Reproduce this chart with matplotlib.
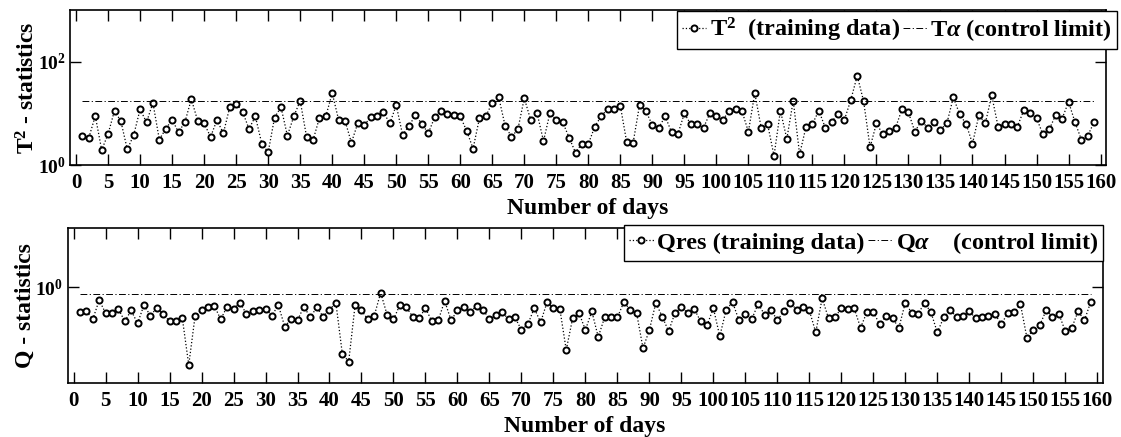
import numpy as np
import matplotlib
matplotlib.use("Agg")
import matplotlib.pyplot as plt
from matplotlib.lines import Line2D

plt.rcParams['font.family'] = ['Liberation Serif', 'DejaVu Serif']
plt.rcParams['font.weight'] = 'bold'
plt.rcParams['mathtext.fontset'] = 'custom'
plt.rcParams['mathtext.rm'] = 'Liberation Serif:bold'
plt.rcParams['mathtext.bf'] = 'Liberation Serif:bold'
plt.rcParams['mathtext.it'] = 'Liberation Serif:italic'

days = np.arange(1, 160)

t2_values = [
    3.7, 3.4, 8.9, 1.95, 4.0, 11.3, 7.0, 2.0, 3.8, 12.0,
    6.7, 16.0, 3.1, 5.0, 7.5, 4.3, 6.8, 18.8, 7.1, 6.4,
    3.5, 7.4, 4.1, 13.2, 15.3, 10.8, 5.0, 8.7, 2.6, 1.76,
    8.3, 13.2, 3.7, 8.7, 17.5, 3.5, 3.0, 8.1, 8.7, 24.7,
    7.5, 7.2, 2.7, 6.5, 5.9, 8.4, 8.7, 10.5, 6.4, 14.4,
    3.8, 5.8, 9.1, 6.3, 4.1, 8.4, 11.3, 9.8, 9.4, 8.7,
    4.6, 2.07, 8.1, 8.8, 16.2, 20.6, 5.8, 3.5, 4.9, 19.7,
    7.4, 10.1, 2.9, 10.1, 7.5, 6.7, 3.4, 1.73, 2.6, 2.55,
    5.5, 8.8, 12.0, 12.0, 14.0, 2.75, 2.7, 14.6, 11.0, 5.9,
    5.2, 8.8, 4.3, 4.0, 10.0, 6.1, 6.1, 5.3, 10.1, 8.7,
    7.5, 11.0, 12.2, 11.0, 4.4, 24.7, 5.2, 6.2, 1.5, 11.3,
    3.2, 17.5, 1.61, 5.5, 6.2, 11.3, 5.3, 6.8, 9.8, 7.5,
    18.3, 53.5, 17.0, 2.2, 6.4, 3.9, 4.6, 5.3, 12.2, 10.4,
    4.4, 7.1, 5.3, 6.8, 4.8, 6.4, 20.3, 9.6, 6.2, 2.6,
    9.2, 6.4, 22.2, 5.5, 6.2, 6.1, 5.5, 11.4, 10.0, 8.1,
    3.9, 4.9, 9.4, 7.9, 16.7, 6.8, 3.1, 3.7, 6.8,
]
t2_limit = 17.5

q_values = [
    0.62, 0.63, 0.54, 0.78, 0.61, 0.61, 0.66, 0.52, 0.64, 0.50,
    0.71, 0.58, 0.67, 0.60, 0.52, 0.52, 0.55, 0.225, 0.58, 0.65,
    0.68, 0.70, 0.54, 0.69, 0.66, 0.745, 0.60, 0.63, 0.65, 0.66,
    0.58, 0.71, 0.47, 0.54, 0.53, 0.69, 0.56, 0.68, 0.57, 0.65,
    0.74, 0.28, 0.24, 0.71, 0.64, 0.54, 0.58, 0.90, 0.59, 0.54,
    0.71, 0.68, 0.57, 0.55, 0.67, 0.52, 0.53, 0.77, 0.53, 0.64,
    0.68, 0.62, 0.70, 0.65, 0.54, 0.59, 0.62, 0.54, 0.56, 0.44,
    0.49, 0.67, 0.51, 0.75, 0.67, 0.66, 0.30, 0.55, 0.61, 0.44,
    0.63, 0.385, 0.56, 0.57, 0.56, 0.75, 0.65, 0.61, 0.31, 0.44,
    0.74, 0.57, 0.43, 0.61, 0.68, 0.61, 0.66, 0.52, 0.48, 0.67,
    0.39, 0.65, 0.75, 0.53, 0.60, 0.54, 0.73, 0.59, 0.65, 0.53,
    0.63, 0.745, 0.65, 0.69, 0.64, 0.42, 0.81, 0.55, 0.56, 0.67,
    0.66, 0.67, 0.46, 0.62, 0.62, 0.49, 0.58, 0.55, 0.46, 0.745,
    0.61, 0.60, 0.74, 0.62, 0.42, 0.56, 0.64, 0.57, 0.58, 0.63,
    0.55, 0.56, 0.58, 0.60, 0.49, 0.61, 0.62, 0.72, 0.38, 0.44,
    0.48, 0.64, 0.57, 0.60, 0.43, 0.455, 0.63, 0.53, 0.76,
]
q_limit = 0.88

x_ticks = list(range(0, 161, 5))

W, H = 1121, 437
fig = plt.figure(figsize=(W / 100, H / 100), dpi=100)


def px_axes(left, top, right, bottom):
    return fig.add_axes([left / W, 1 - bottom / H, (right - left) / W, (bottom - top) / H])


ax1 = px_axes(70, 10, 1106, 165)
ax2 = px_axes(67.5, 228.3, 1102.7, 382.7)

data_style = dict(color='black', linestyle=':', linewidth=0.9, marker='o',
                  markersize=4.4, markerfacecolor='white', markeredgecolor='black',
                  markeredgewidth=1.4)
limit_style = dict(color='black', linestyle=(0, (7, 2.5, 1.2, 2.5)), linewidth=0.7)


def style_axes(ax, yticks, yticklabels, ylim, ylabel, ylabel_x, xlabel_y):
    ax.set_yscale('log')
    ax.set_xlim(-0.95, 160.85)
    ax.set_ylim(*ylim)
    ax.set_xticks(x_ticks)
    ax.set_xticklabels([str(v) for v in x_ticks], fontsize=15, fontweight='bold')
    ax.set_yticks(yticks)
    ax.set_yticklabels(yticklabels, fontsize=14)
    ax.yaxis.set_minor_locator(matplotlib.ticker.NullLocator())
    ax.tick_params(axis='both', which='major', direction='in', length=8, width=1.0,
                   top=True, right=True)
    ax.tick_params(axis='x', pad=6)
    ax.tick_params(axis='y', pad=3)
    for sp in ax.spines.values():
        sp.set_linewidth(1.2)
    ax.set_xlabel('Number of days', fontsize=17, fontweight='bold')
    ax.set_ylabel(ylabel, fontsize=17, fontweight='bold')
    ax.yaxis.set_label_coords(ylabel_x, 0.5)
    ax.xaxis.set_label_coords(0.5, xlabel_y)


ax1.plot(days, t2_values, **data_style)
ax1.plot(days, np.full(len(days), t2_limit), **limit_style)
style_axes(ax1, [1, 100], [r'$\mathbf{10^{0}}$', r'$\mathbf{10^{2}}$'], (1, 1000),
           r'T$^{\mathbf{2}}$ - statistics', -0.029, -0.213)

ax2.plot(days, q_values, **data_style)
ax2.plot(days, np.full(len(days), q_limit), **limit_style)
style_axes(ax2, [1], [r'$\mathbf{10^{0}}$'], (0.16, 3.1), 'Q - statistics',
           -0.031, -0.215)

h_data = Line2D([], [], **data_style)
h_limit = Line2D([], [], **limit_style)

leg_kw = dict(ncol=2, frameon=True, fancybox=False, framealpha=1, edgecolor='black',
              handlelength=1.0, handletextpad=0.15, columnspacing=0.12, borderpad=0.2,
              borderaxespad=0, prop=dict(family='Liberation Serif', weight='bold', size=17.5))

leg1 = fig.legend([h_data, h_limit],
                  [r'T$^{\mathbf{2}}$  (training data)', r'T$\alpha$ (control limit)'],
                  loc='upper right', bbox_to_anchor=(1116.7 / W, 1 - 10.7 / H), **leg_kw)
leg1.get_frame().set_linewidth(1.0)

leg2 = fig.legend([h_data, h_limit],
                  ['Qres (training data)', r'Q$\alpha$    (control limit)'],
                  loc='upper right', bbox_to_anchor=(1102.7 / W, 1 - 225 / H), **leg_kw)
leg2.get_frame().set_linewidth(1.0)

fig.savefig('out.png', dpi=100)
